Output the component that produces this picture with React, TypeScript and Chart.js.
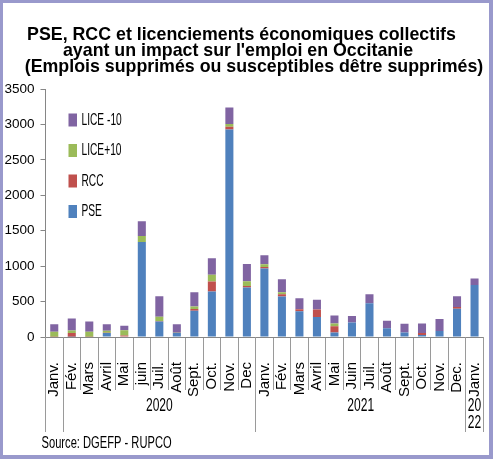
import React, { useEffect, useRef } from 'react';
import { Chart, registerables } from 'chart.js';

Chart.register(...registerables);

// ---- data ----
const months = [
  'Janv.', 'Fév.', 'Mars', 'Avril', 'Mai', 'juin', 'Juil.', 'Août', 'Sept.', 'Oct.', 'Nov.', 'Dec',
  'Janv.', 'Fév.', 'Mars', 'Avril', 'Mai', 'Juin', 'Juil.', 'Août', 'Sept.', 'Oct.', 'Nov.', 'Dec.',
  'Janv.',
];
const yearLabels = [[], ['2020'], ['2021'], ['20', '22']];
const yearStart = [0, 1, 12, 24];
const yearEnd = [0, 11, 23, 24];

const pse = [0, 5, 0, 55, 0, 1340, 220, 55, 370, 642, 2927, 698, 965, 571, 365, 281, 62, 206, 478, 124, 63, 28, 85, 398, 735];
const rcc = [5, 50, 5, 5, 20, 0, 5, 0, 25, 140, 42, 23, 23, 33, 28, 108, 90, 0, 0, 0, 0, 28, 0, 24, 0];
const licePlus10 = [70, 37, 70, 28, 75, 85, 60, 5, 37, 98, 37, 66, 37, 28, 0, 0, 37, 0, 0, 0, 0, 0, 0, 0, 0];
const liceMinus10 = [105, 170, 145, 92, 65, 210, 290, 120, 198, 230, 234, 245, 130, 183, 155, 136, 113, 92, 126, 104, 124, 136, 168, 154, 89];

const seriesNames = ['PSE', 'RCC', 'LICE+10', 'LICE -10'];
const seriesColors = ['#4f81bd', '#c0504d', '#9bbb59', '#8064a2'];

const yMax = 3500;
const yStep = 500;

const titleLines = [
  'PSE, RCC et licenciements économiques collectifs',
  'ayant un impact sur l\'emploi en Occitanie',
  '(Emplois supprimés ou susceptibles dêtre supprimés)',
];
const sourceText = 'Source: DGEFP - RUPCO';

const SANS = "'Liberation Sans', Arial, sans-serif";

function squeezedText(ctx: CanvasRenderingContext2D, text: string, x: number, y: number, sx: number, align: CanvasTextAlign) {
  ctx.save();
  ctx.translate(x, y);
  ctx.scale(sx, 1);
  ctx.textAlign = align;
  ctx.textBaseline = 'middle';
  ctx.fillText(text, 0, 0);
  ctx.restore();
}

// title lines: centre x offsets from canvas centre and baselines
const titleCentreShift = [-5, -8.5, 7.5];
const titleBaselines = [39.5, 55.5, 71.5];

const decorPlugin = {
  id: 'decor',
  afterDraw(chart: any) {
    const ctx: CanvasRenderingContext2D = chart.ctx;
    const xs = chart.scales.x;
    const area = chart.chartArea;
    const align = (p: number) => Math.round(p - 0.5) + 0.5;
    ctx.save();
    // title
    ctx.fillStyle = '#000';
    ctx.font = `bold 17.8px ${SANS}`;
    ctx.textAlign = 'center';
    ctx.textBaseline = 'alphabetic';
    titleLines.forEach((t, i) => {
      ctx.fillText(t, chart.width / 2 + titleCentreShift[i], titleBaselines[i]);
    });
    // long year separators
    ctx.strokeStyle = '#9a9a9a';
    ctx.lineWidth = 1;
    const bounds: number[] = [];
    yearStart.forEach((s, i) => {
      bounds.push(s - 0.5);
      bounds.push(yearEnd[i] + 0.5);
    });
    Array.from(new Set(bounds)).forEach((b) => {
      const px = align(xs.getPixelForValue(b));
      ctx.beginPath();
      ctx.moveTo(px, area.bottom);
      ctx.lineTo(px, area.bottom + 95);
      ctx.stroke();
    });
    // year labels
    ctx.fillStyle = '#000';
    ctx.font = `18.5px ${SANS}`;
    yearLabels.forEach((lines, i) => {
      const cx = (xs.getPixelForValue(yearStart[i] - 0.5) + xs.getPixelForValue(yearEnd[i] + 0.5)) / 2;
      lines.forEach((t, j) => {
        squeezedText(ctx, t, cx, area.bottom + 69 + j * 17, 0.65, 'center');
      });
    });
    // source
    ctx.font = `16.3px ${SANS}`;
    squeezedText(ctx, sourceText, area.left - 4, area.bottom + 106.5, 0.685, 'left');
    // legend (inside plot area, reversed order)
    const ds = chart.data.datasets;
    ctx.font = `17px ${SANS}`;
    for (let k = 0; k < ds.length; k++) {
      const d = ds[ds.length - 1 - k];
      const cy = area.top + 31 + k * 30.5;
      const bx = area.left + 23;
      ctx.fillStyle = d.backgroundColor;
      ctx.fillRect(bx, cy - 6.5, 8.5, 13);
      ctx.fillStyle = '#000';
      squeezedText(ctx, d.label, bx + 13, cy, 0.6, 'left');
    }
    ctx.restore();
  },
};

export default function App() {
  const ref = useRef<HTMLCanvasElement>(null);

  useEffect(() => {
    const values = [pse, rcc, licePlus10, liceMinus10];
    const chart = new Chart(ref.current as HTMLCanvasElement, {
      type: 'bar',
      data: {
        labels: months,
        datasets: values.map((v, i) => ({
          label: seriesNames[i],
          data: v,
          backgroundColor: seriesColors[i],
          borderWidth: 0,
          barPercentage: 0.46,
          categoryPercentage: 1,
        })),
      },
      options: {
        responsive: false,
        animation: false,
        devicePixelRatio: 1,
        layout: { padding: { left: 0, right: 9.7, top: 89, bottom: 56 } },
        plugins: {
          legend: { display: false },
          tooltip: { enabled: false },
          title: { display: false },
        },
        scales: {
          x: {
            stacked: true,
            offset: true,
            grid: { display: true, drawOnChartArea: false, drawTicks: true, tickLength: 53, color: '#9a9a9a', offset: true },
            border: { display: true, color: '#868686' },
            ticks: {
              autoSkip: false,
              maxRotation: 90,
              minRotation: 90,
              padding: -28,
              color: '#000',
              font: { family: SANS, size: 15 },
            },
            afterFit: (s: any) => { s.height = 66; },
          },
          y: {
            stacked: true,
            min: 0,
            max: yMax,
            ticks: {
              stepSize: yStep,
              padding: 6,
              color: '#000',
              font: { family: SANS, size: 13.5 },
              callback: (v: any) => String(v),
            },
            grid: { display: true, drawOnChartArea: false, drawTicks: true, tickLength: 5, color: '#868686' },
            border: { display: true, color: '#868686' },
            afterFit: (s: any) => { s.width = 45.5; },
          },
        },
      },
      plugins: [decorPlugin],
    } as any);
    return () => chart.destroy();
  }, []);

  return (
    <div style={{ position: 'absolute', left: 0, top: 0, width: 493, height: 459, background: '#fff' }}>
      <canvas
        ref={ref}
        width={493}
        height={459}
        style={{ position: 'absolute', left: 0, top: 0, width: 493, height: 459 }}
      />
      <div
        style={{
          position: 'absolute', left: 0, top: 0, width: 493, height: 459, boxSizing: 'border-box',
          borderStyle: 'solid', borderColor: '#9999cc', borderWidth: '3px 4px 4px 3px', pointerEvents: 'none',
        }}
      />
    </div>
  );
}
